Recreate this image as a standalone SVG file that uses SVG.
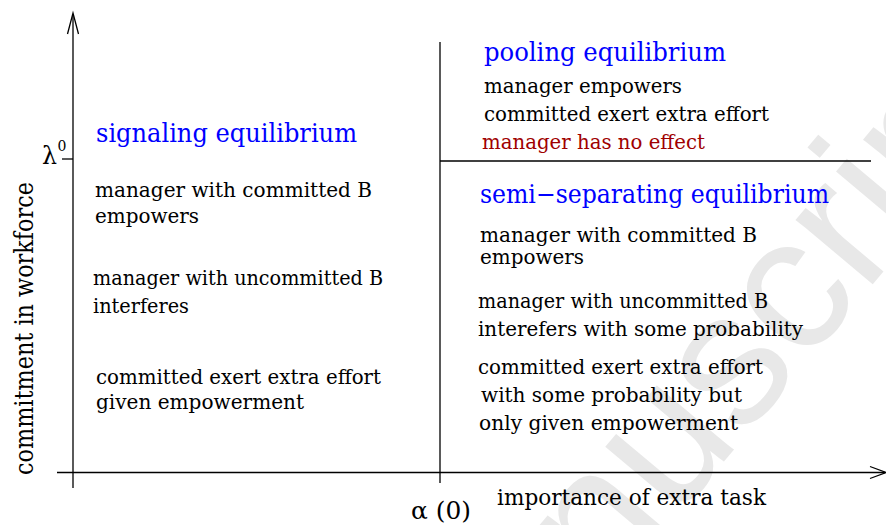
<svg xmlns="http://www.w3.org/2000/svg" width="886" height="525" viewBox="0 0 886 525">
<style>
text.t{font-family:'DejaVu Serif',serif;font-size:21px;fill:#000}
text.h{font-size:26px;fill:#0000ff}
text.r{fill:#a00000}
.ax{stroke:#000;stroke-width:1.3;fill:none}
text.wm{font-family:'Liberation Sans',Arial,sans-serif;font-size:190px;fill:#e8e8e8}
</style>
<rect width="886" height="525" fill="#fff"/>
<g id="watermark" transform="translate(735,372) rotate(-50)">
<text class="wm" x="-522.7" y="49">Manuscript</text>
</g>
<g id="connectors">
<path class="ax" d="M73 488 V14" stroke="#444"/>
<path class="ax" d="M67.5 34 L73 13 L78.5 34"/>
<path class="ax" d="M62 159 H73"/>
<path class="ax" d="M57 472.5 H885"/>
<path class="ax" d="M870 466.5 L886 472.5 L870 478.5"/>
<path class="ax" d="M440 42 V483"/>
<path class="ax" d="M440 161 H871"/>
</g>
<g id="y-label">
<text class="t" style="font-size:26px" transform="translate(33,475) rotate(-90)" textLength="293" lengthAdjust="spacingAndGlyphs">commitment in workforce</text>
<text class="t" style="font-size:25px" x="42" y="164" textLength="15" lengthAdjust="spacingAndGlyphs">λ</text>
<text class="t" style="font-size:14px" x="57.5" y="151">0</text>
</g>
<g id="x-label">
<text class="t" style="font-size:24px" x="411" y="519" textLength="60" lengthAdjust="spacingAndGlyphs">α (0)</text>
<text class="t" style="font-size:23px" x="497" y="505" textLength="269" lengthAdjust="spacingAndGlyphs">importance of extra task</text>
</g>
<g id="signaling">
<text class="t h" x="96" y="142" textLength="261" lengthAdjust="spacingAndGlyphs">signaling equilibrium</text>
<text class="t" x="95" y="197" textLength="277" lengthAdjust="spacingAndGlyphs">manager with committed B</text>
<text class="t" x="95" y="223" textLength="104" lengthAdjust="spacingAndGlyphs">empowers</text>
<text class="t" x="93" y="285" textLength="290" lengthAdjust="spacingAndGlyphs">manager with uncommitted B</text>
<text class="t" x="93" y="313" textLength="96" lengthAdjust="spacingAndGlyphs">interferes</text>
<text class="t" x="96" y="384" textLength="285" lengthAdjust="spacingAndGlyphs">committed exert extra effort</text>
<text class="t" x="96" y="409" textLength="208" lengthAdjust="spacingAndGlyphs">given empowerment</text>
</g>
<g id="pooling">
<text class="t h" x="484" y="61" textLength="242" lengthAdjust="spacingAndGlyphs">pooling equilibrium</text>
<text class="t" x="484" y="93" textLength="198" lengthAdjust="spacingAndGlyphs">manager empowers</text>
<text class="t" x="484" y="121" textLength="285" lengthAdjust="spacingAndGlyphs">committed exert extra effort</text>
<text class="t r" x="482" y="149" textLength="223" lengthAdjust="spacingAndGlyphs">manager has no effect</text>
</g>
<g id="semi-separating">
<text class="t h" x="480" y="203" textLength="349" lengthAdjust="spacingAndGlyphs">semi−separating equilibrium</text>
<text class="t" x="480" y="242" textLength="277" lengthAdjust="spacingAndGlyphs">manager with committed B</text>
<text class="t" x="480" y="264" textLength="104" lengthAdjust="spacingAndGlyphs">empowers</text>
<text class="t" x="478" y="308" textLength="290" lengthAdjust="spacingAndGlyphs">manager with uncommitted B</text>
<text class="t" x="478" y="336" textLength="325" lengthAdjust="spacingAndGlyphs">interefers with some probability</text>
<text class="t" x="478" y="374" textLength="285" lengthAdjust="spacingAndGlyphs">committed exert extra effort</text>
<text class="t" x="481" y="402" textLength="261" lengthAdjust="spacingAndGlyphs">with some probability but</text>
<text class="t" x="479" y="430" textLength="259" lengthAdjust="spacingAndGlyphs">only given empowerment</text>
</g>
</svg>
